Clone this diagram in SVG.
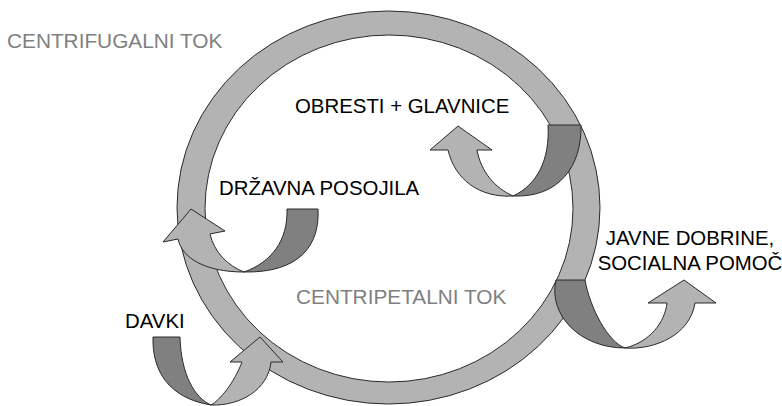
<svg xmlns="http://www.w3.org/2000/svg" width="782" height="406" viewBox="0 0 782 406">
<style>
.light{fill:#b3b3b3;stroke:#2a2a2a;stroke-width:1;stroke-linejoin:round}
.dark{fill:#808080;stroke:#2a2a2a;stroke-width:1;stroke-linejoin:round}
.lbl{font-family:"Liberation Sans",Arial,sans-serif;font-size:20.4px;fill:#000}
.flow{font-family:"Liberation Sans",Arial,sans-serif;font-size:20.8px;fill:#808080}
</style>
<rect width="782" height="406" fill="#fff"/>
<g id="ring">
<path class="light" fill-rule="evenodd" d="M177,207.5 A211.5,196.5 0 1 0 600,207.5 A211.5,196.5 0 1 0 177,207.5 Z M205,208.5 A184,173.5 0 1 1 573,208.5 A184,173.5 0 1 1 205,208.5 Z"/>
</g>
<g id="connectors">
<g id="arrow-obresti">
<path class="dark" d="M548,125 L581,125 C582,165 560,198 513,196 C537,185 550,160 548,125 Z"/>
<path class="light" d="M513,196 C480,198 455,180 448,150 L430,150 L458,126 L492,150 L477,150 C481,172 495,188 513,196 Z"/>
</g>
<g id="arrow-drzavna">
<path class="dark" d="M287,209 L318,209 C320,245 300,273 244,272 C272,262 288,240 287,209 Z"/>
<path class="light" d="M244,272 C205,272 182,258 178,239 L163,242 L191,209 L225,231 L210,234 C214,252 228,266 244,272 Z"/>
</g>
<g id="arrow-javne">
<path class="dark" d="M556,280 L585,280 C590,308 608,342 625,348 C580,348 548,315 556,280 Z"/>
<path class="light" d="M625,348 C655,350 690,335 695,303 L716,303 L684,280 L648,303 L667,303 C665,322 650,342 625,348 Z"/>
</g>
<g id="arrow-davki">
<path class="dark" d="M153,337 L180,337 C181,375 195,398 211,405 C168,398 152,370 153,337 Z"/>
<path class="light" d="M211,405 C240,406 268,390 271,362 L283,362 L260,337 L230,362 L242,362 C234,383 220,400 211,405 Z"/>
</g>
</g>
<g id="label-centrifugalni"><text class="flow" x="7" y="48">CENTRIFUGALNI TOK</text></g>
<g id="label-obresti"><text class="lbl" x="295" y="113">OBRESTI + GLAVNICE</text></g>
<g id="label-drzavna"><text class="lbl" x="219" y="195">DRŽAVNA POSOJILA</text></g>
<g id="label-centripetalni"><text class="flow" x="296" y="304">CENTRIPETALNI TOK</text></g>
<g id="label-javne"><text class="lbl" text-anchor="middle" x="690" y="245">JAVNE DOBRINE,</text><text class="lbl" text-anchor="middle" x="690" y="270">SOCIALNA POMOČ</text></g>
<g id="label-davki"><text class="lbl" x="125" y="328">DAVKI</text></g>
</svg>
